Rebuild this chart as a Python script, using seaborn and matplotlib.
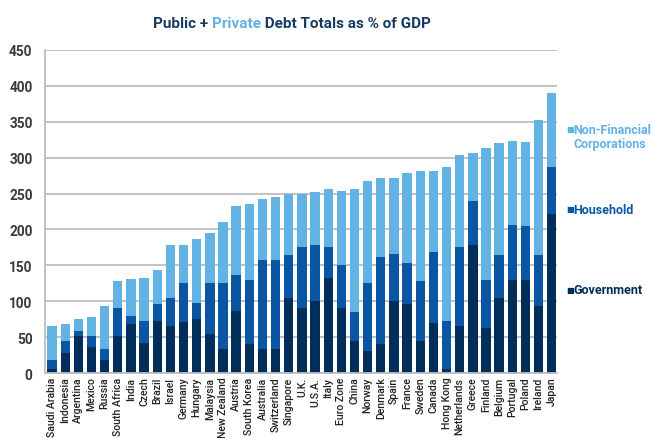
import matplotlib
matplotlib.use("Agg")
import matplotlib.pyplot as plt
import pandas as pd
import seaborn as sns

# data (% of GDP), segments stacked bottom -> top
countries = [
    "Saudi Arabia", "Indonesia", "Argentina", "Mexico", "Russia", "South Africa",
    "India", "Czech", "Brazil", "Israel", "Germany", "Hungary", "Malaysia",
    "New Zealand", "Austria", "South Korea", "Australia", "Switzerland",
    "Singapore", "U.K.", "U.S.A.", "Italy", "Euro Zone", "China", "Norway",
    "Denmark", "Spain", "France", "Sweden", "Canada", "Hong Kong",
    "Netherlands", "Greece", "Finland", "Belgium", "Portugal", "Poland",
    "Ireland", "Japan",
]
government = [6, 28, 52, 36, 18, 52, 68, 42, 73, 65, 71, 75, 54, 33, 86, 41, 33,
              34, 104, 90, 100, 133, 91, 44, 31, 40, 100, 96, 44, 70, 5, 65, 178,
              63, 105, 129, 129, 94, 221]
household = [12, 16, 7, 15, 15, 38, 12, 30, 23, 40, 54, 22, 71, 92, 51, 88, 125,
             124, 61, 86, 79, 42, 59, 41, 95, 122, 66, 57, 84, 98, 67, 111, 61,
             67, 60, 77, 76, 70, 66]
non_financial = [47, 24, 16, 27, 61, 38, 51, 61, 47, 73, 54, 90, 70, 85, 95, 107,
                 84, 87, 84, 74, 73, 81, 104, 171, 141, 109, 106, 125, 154, 114,
                 215, 128, 67, 183, 156, 117, 117, 188, 103]
y_ticks = [0, 50, 100, 150, 200, 250, 300, 350, 400, 450]

C_GOV = "#002E5A"
C_HH = "#0A56A3"
C_NFC = "#62B3E4"

df = pd.DataFrame({
    "country": countries,
    "gov": government,
    "hh": household,
    "nfc": non_financial,
})
df["gov_hh"] = df["gov"] + df["hh"]
df["total"] = df["gov_hh"] + df["nfc"]

sns.set_style("white")
plt.rcParams["font.family"] = ["Roboto", "DejaVu Sans"]

fig = plt.figure(figsize=(6.53, 4.39), dpi=100)
ax = fig.add_axes([0.069, 0.148, 0.784, 0.736])

# stacked bars drawn as overlapping cumulative totals
for col, color in [("total", C_NFC), ("gov_hh", C_HH), ("gov", C_GOV)]:
    sns.barplot(data=df, x="country", y=col, order=countries, color=color,
                width=0.71, saturation=1, linewidth=0, ax=ax, zorder=2)

ax.set_xlim(-0.53, 38.4)
ax.set_ylim(0, 450)
ax.set_yticks(y_ticks)
ax.set_yticklabels([str(t) for t in y_ticks], fontsize=9.8, fontweight="bold",
                   color="#3a3a3a")
ax.tick_params(axis="y", length=0, pad=9)
ax.tick_params(axis="x", length=0, pad=2.5)
ax.set_xticks(range(len(countries)))
ax.set_xticklabels(countries, rotation=90, fontsize=7.6, color="#222222",
                   fontweight="medium")
ax.set_xlabel("")
ax.set_ylabel("")
ax.yaxis.grid(True, color="#BDBDBD", linewidth=1.3, zorder=0)
ax.set_axisbelow(True)
for side in ["top", "right"]:
    ax.spines[side].set_visible(False)
for side in ["left", "bottom"]:
    ax.spines[side].set_color("#BDBDBD")
    ax.spines[side].set_linewidth(1.3)

# two-colour title
fig.canvas.draw()
renderer = fig.canvas.get_renderer()
x0 = 153 / 653
y0 = 1 - 24 / 439
parts = [("Public + ", "#173A63"), ("Private", C_NFC), (" Debt Totals as % of GDP", "#173A63")]
for txt, col in parts:
    t = fig.text(x0, y0, txt, fontsize=11, fontweight="bold", color=col,
                 va="center", ha="left")
    bb = t.get_window_extent(renderer=renderer)
    x0 += bb.width / fig.bbox.width

# legend to the right of the bars
legend_items = [
    ("Non-Financial\nCorporations", C_NFC, 130),
    ("Household", C_HH, 210),
    ("Government", C_GOV, 290),
]
for label, col, ypix in legend_items:
    first_line_y = 1 - ypix / 439
    fig.text(566 / 653, first_line_y, "\u25A0", fontsize=6, color=col,
             va="center", ha="left", family="DejaVu Sans")
    fig.text(573 / 653, first_line_y + 0.013, label, fontsize=9, fontweight="bold",
             color=col, va="top", ha="left", linespacing=1.1)

fig.savefig("out.png", dpi=100)
